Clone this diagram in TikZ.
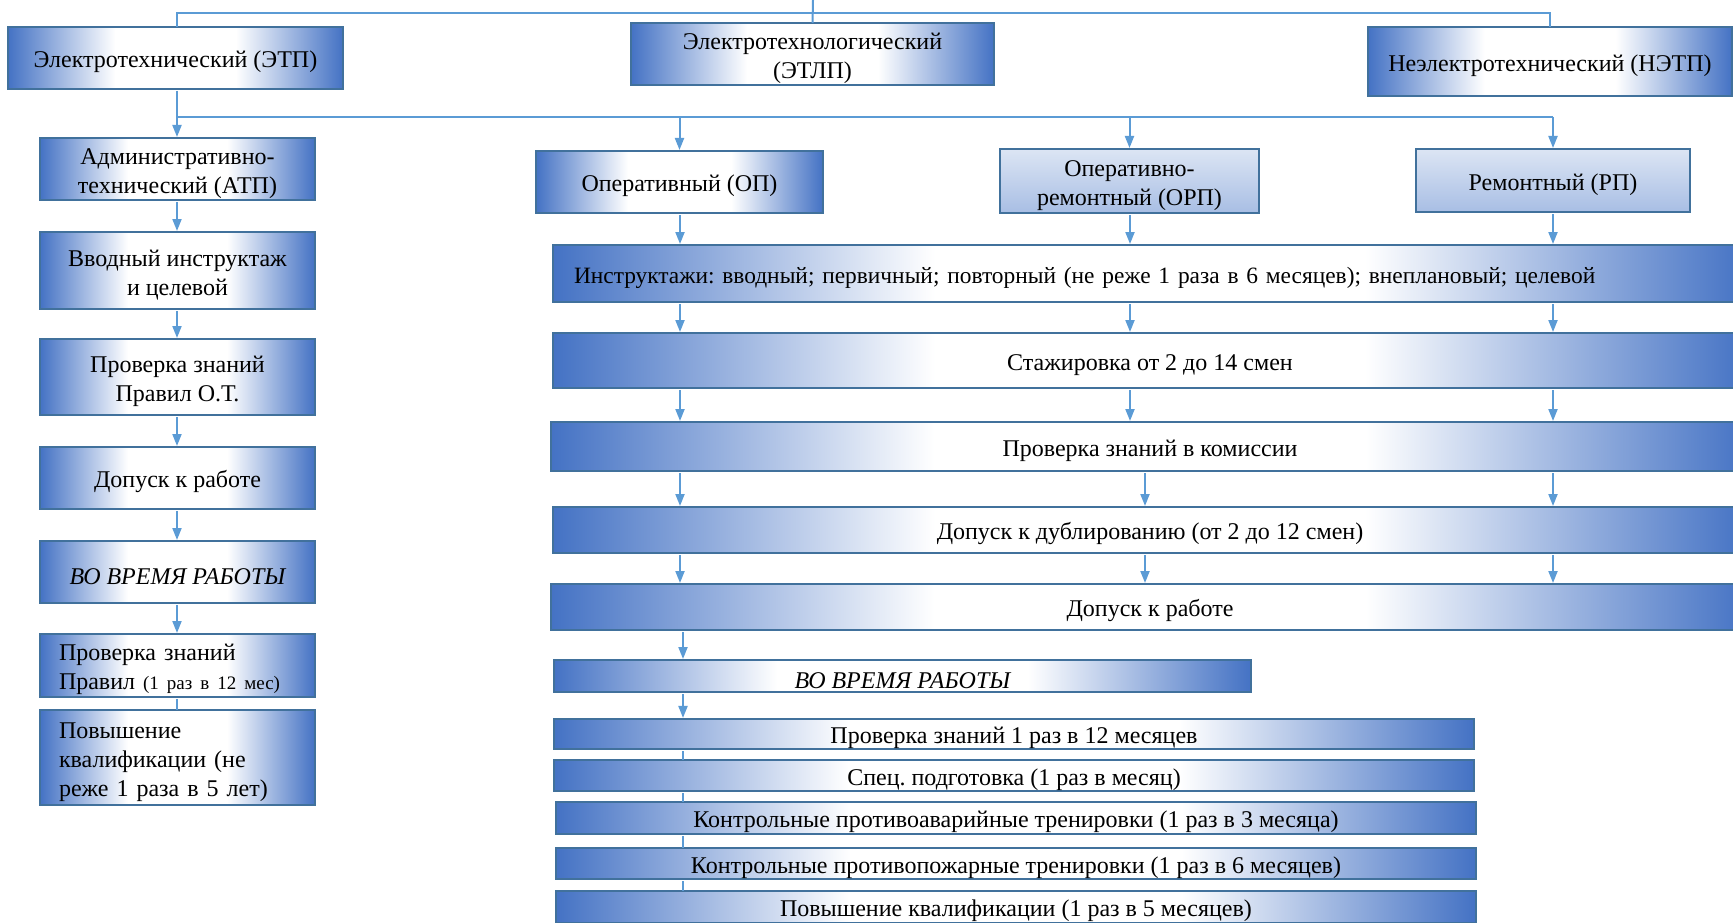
\documentclass[tikz,border=0pt]{standalone}
\usepackage{fontspec}
\setmainfont{Liberation Serif}
\usetikzlibrary{arrows.meta}
\frenchspacing
\definecolor{bblue}{RGB}{68,114,196}
\definecolor{bord}{RGB}{65,113,156}
\definecolor{conn}{RGB}{91,155,213}
\definecolor{ltop}{RGB}{220,229,244}
\definecolor{lbot}{RGB}{168,190,228}
\pgfdeclareverticalshading{bandsh}{100bp}{color(0bp)=(bblue); color(25bp)=(bblue); color(41bp)=(white); color(59bp)=(white); color(75bp)=(bblue); color(100bp)=(bblue)}
\newcommand\fzmain{\fontsize{24}{29}\selectfont}
\newcommand\fzsmall{\fontsize{19}{22}\selectfont}
\newcommand\topstrut{\rule{0pt}{25pt}}
\begin{document}
\begin{tikzpicture}[x=1pt,y=-1pt,
  base/.style={draw=bord, line width=2.5pt, inner sep=0pt, outer sep=0pt, align=center, font=\fzmain, execute at begin node=\topstrut},
  gbox/.style={base, shade, shading=bandsh, shading angle=90},
  lbox/.style={base, top color=ltop, bottom color=lbot},
  sz/.style 2 args={minimum width=#1pt, minimum height=#2pt},
  lefttext/.style 2 args={text width=#1pt, inner xsep=#2pt, align=left},
  ln/.style={draw=conn, line width=2pt, shorten <=2pt},
  arr/.style={ln, -{Triangle[width=9pt,length=12pt]}, shorten >=1pt}]
\useasboundingbox (0,0) rectangle (1733,923);
\clip (0,0) rectangle (1733,923);
% top level
\node[gbox, sz={335}{62}] (etp) at (175.5,58) {Электротехнический (ЭТП)};
\node[gbox, sz={363}{62}] (etlp) at (812.5,54) {\topstrut Электротехнологический\\(ЭТЛП)};
\node[gbox, sz={364}{69}] (netp) at (1550,61.5) {Неэлектротехнический (НЭТП)};
% left column
\node[gbox, sz={275}{62}] (atp) at (177.5,169) {\topstrut Административно-\\технический (АТП)};
\node[gbox, sz={275}{77}] (vvod) at (177.5,270.5) {\topstrut Вводный инструктаж\\и целевой};
\node[gbox, sz={275}{76}] (prov) at (177.5,377) {\topstrut Проверка знаний\\Правил О.Т.};
\node[gbox, sz={275}{62}] (dop) at (177.5,478) {Допуск к работе};
\node[gbox, sz={275}{62}] (vo) at (177.5,572) {\itshape ВО ВРЕМЯ РАБОТЫ};
\node[gbox, sz={275}{63}, lefttext={237}{19}] (p12l) at (177.5,665.5) {Проверка знаний\\Правил {\fzsmall (1 раз в 12 мес)}};
\node[gbox, sz={275}{95}, lefttext={237}{19}] (povl) at (177.5,757.5) {Повышение\\квалификации (не\\реже 1 раза в 5 лет)};
% right part
\node[gbox, sz={287}{62}] (op) at (679.5,182) {Оперативный (ОП)};
\node[lbox, sz={259}{64}] (orp) at (1129.5,181) {\topstrut Оперативно-\\ремонтный (ОРП)};
\node[lbox, sz={274}{63}] (rp) at (1553,180.5) {Ремонтный (РП)};
\node[gbox, sz={1194}{57}, lefttext={1152}{21}, font=\fontsize{23.4}{28}\selectfont] (instr) at (1150,273.5) {Инструктажи: вводный; первичный; повторный (не реже 1 раза в 6 месяцев); внеплановый; целевой};
\node[gbox, sz={1194}{55}] (stazh) at (1150,360.5) {Стажировка от 2 до 14 смен};
\node[gbox, sz={1198}{49}] (provk) at (1150,446.5) {Проверка знаний в комиссии};
\node[gbox, sz={1194}{46}] (dubl) at (1150,530) {Допуск к дублированию (от 2 до 12 смен)};
\node[gbox, sz={1198}{46}] (dopr) at (1150,607) {Допуск к работе};
\node[gbox, sz={697}{32}] (vo2) at (902.5,676) {\itshape ВО ВРЕМЯ РАБОТЫ};
\node[gbox, sz={920}{30}] (p12) at (1014,734) {Проверка знаний 1 раз в 12 месяцев};
\node[gbox, sz={920}{31}] (spec) at (1014,775.5) {Спец. подготовка (1 раз в месяц)};
\node[gbox, sz={920}{32}] (kav) at (1016,818) {Контрольные противоаварийные тренировки (1 раз в 3 месяца)};
\node[gbox, sz={920}{31}] (kpz) at (1016,863.5) {Контрольные противопожарные тренировки (1 раз в 6 месяцев)};
\node[gbox, sz={920}{32}] (pk) at (1016,907) {Повышение квалификации (1 раз в 5 месяцев)};
% junction coordinates
\coordinate (topin) at (813,0);
\coordinate (jt) at (813,13);
\coordinate (jb) at (177,117);
\coordinate (jbr) at (1553,117);
\coordinate (cA) at (680,0);
\coordinate (cB) at (1130,0);
\coordinate (cB2) at (1145,0);
\coordinate (cC) at (1553,0);
\coordinate (cD) at (683,0);
% connectors
\draw[ln, shorten <=0pt] (topin) -- (etlp.north);
\draw[ln, shorten <=0pt] (etp.north -| jb) |- (jt) -| (netp.north);
\draw[arr] (etp.south -| jb) -- (atp.north -| jb);
\draw[ln, shorten <=0pt] (jb) -- (jbr);
\draw[arr, shorten <=0pt] (jb -| op.north) -- (op.north);
\draw[arr, shorten <=0pt] (jb -| orp.north) -- (orp.north);
\draw[arr, shorten <=0pt] (jbr) -- (rp.north);
\foreach \u/\v in {atp/vvod, vvod/prov, prov/dop, dop/vo, vo/p12l}
  \draw[arr] (\u.south -| jb) -- (\v.north -| jb);
\draw[ln] (p12l.south -| jb) -- (povl.north -| jb);
\draw[arr] (op.south -| cA) -- (instr.north -| cA);
\draw[arr] (orp.south -| cB) -- (instr.north -| cB);
\draw[arr] (rp.south -| cC) -- (instr.north -| cC);
\foreach \u/\v in {instr/stazh, stazh/provk}
  \foreach \c in {cA,cB,cC}
    \draw[arr] (\u.south -| \c) -- (\v.north -| \c);
\foreach \u/\v in {provk/dubl, dubl/dopr}
  \foreach \c in {cA,cB2,cC}
    \draw[arr] (\u.south -| \c) -- (\v.north -| \c);
\draw[arr] (dopr.south -| cD) -- (vo2.north -| cD);
\draw[arr] (vo2.south -| cD) -- (p12.north -| cD);
\foreach \u/\v in {p12/spec, spec/kav, kav/kpz, kpz/pk}
  \draw[ln] (\u.south -| cD) -- (\v.north -| cD);
\end{tikzpicture}
\end{document}
